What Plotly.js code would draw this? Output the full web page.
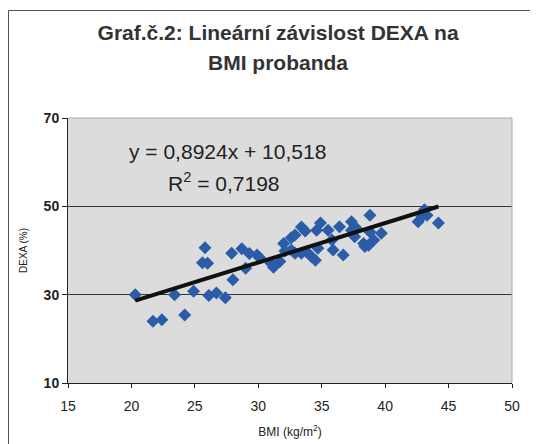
<!DOCTYPE html>
<html>
<head>
<meta charset="utf-8">
<script src="https://cdn.plot.ly/plotly-3.0.1.min.js"></script>
<style>html,body{margin:0;padding:0;background:#fff;}#chart{width:541px;height:444px;}</style>
</head>
<body>
<div id="chart"></div>
<script>
// BMI (kg/m2)
var bmi = [20.3, 21.7, 22.4, 24.2, 23.4, 24.9, 26.1, 26.7, 27.4, 25.8,
           25.6, 26.0, 27.9, 28.7, 28.0, 29.0, 29.3, 29.9, 30.1, 31.0,
           31.2, 31.7, 32.0, 32.1, 32.6, 32.9, 33.4, 33.7, 32.6, 32.9,
           33.4, 33.8, 34.2, 34.5, 34.6, 34.9, 35.5, 34.7, 35.8, 35.9,
           36.4, 36.7, 37.35, 37.35, 37.75, 37.6, 38.3, 38.4, 38.7, 38.8,
           39.1, 38.8, 39.7, 42.6, 42.9, 43.1, 43.3, 44.2];
// DEXA (%)
var dexa = [30.0, 24.0, 24.3, 25.4, 30.0, 30.8, 29.8, 30.4, 29.3, 40.6,
            37.2, 37.1, 39.4, 40.4, 33.4, 36.0, 39.3, 39.0, 38.4, 37.1,
            36.2, 37.5, 41.6, 39.9, 42.9, 43.5, 45.3, 44.4, 40.1, 39.4,
            39.4, 39.7, 38.6, 37.8, 44.6, 46.2, 44.6, 40.5, 42.4, 40.1,
            45.4, 39.0, 46.5, 44.6, 45.0, 43.1, 41.6, 40.9, 41.2, 44.2,
            42.4, 48.0, 43.9, 46.5, 47.7, 49.2, 48.0, 46.2];
var slope = 0.8924, intercept = 10.518;
var xTicks = [15, 20, 25, 30, 35, 40, 45, 50];
var yTicks = [10, 30, 50, 70];

var xmin = Math.min.apply(null, bmi), xmax = Math.max.apply(null, bmi);
var trendX = [xmin, xmax];
var trendY = trendX.map(function(v){ return slope * v + intercept; });

var font = 'Arial, "Liberation Sans", sans-serif';
var data = [
  {x: bmi, y: dexa, type: 'scatter', mode: 'markers',
   marker: {symbol: 'diamond', size: 10, color: '#2b5ca8'}, hoverinfo: 'skip'},
  {x: trendX, y: trendY, type: 'scatter', mode: 'lines',
   line: {color: '#111', width: 4}, hoverinfo: 'skip'}
];
var layout = {
  width: 541, height: 444,
  margin: {l: 68, r: 29, t: 118, b: 61},
  paper_bgcolor: '#ffffff',
  plot_bgcolor: '#dcdcdc',
  showlegend: false,
  font: {family: font, color: '#222'},
  title: {text: 'Graf.č.2: Lineární závislost DEXA na',
          font: {family: font, size: 21, color: '#333', weight: 'bold'},
          x: 0.514, xanchor: 'center', y: 0.926, yanchor: 'middle'},
  xaxis: {range: [15, 50], tickvals: xTicks, ticktext: xTicks.map(String),
          showgrid: false, zeroline: false,
          showline: true, linecolor: '#222', linewidth: 1, mirror: false,
          ticks: 'outside', ticklen: 4, tickcolor: '#222',
          ticklabelstandoff: 6,
          tickfont: {size: 14, color: '#222'},
          title: {text: 'BMI (kg/m<sup>2</sup>)', font: {size: 12, color: '#222'}, standoff: 14}},
  yaxis: {range: [10, 70], tickvals: yTicks, ticktext: yTicks.map(function(v){return '<b>'+v+'</b>';}),
          showgrid: true, gridcolor: '#333', gridwidth: 1, zeroline: false,
          showline: true, linecolor: '#222', linewidth: 1,
          ticks: 'outside', ticklen: 5, tickcolor: '#222',
          tickfont: {size: 14, color: '#222'},
          title: {text: 'DEXA (%)', font: {size: 10, color: '#222'}, standoff: 14}},
  annotations: [
    {xref: 'paper', yref: 'paper', x: 0.473, y: 1.211, xanchor: 'center', yanchor: 'middle',
     text: '<b>BMI probanda</b>', showarrow: false, font: {size: 21, color: '#333'}},
    {xref: 'paper', yref: 'paper', x: 0.36, y: 0.872, xanchor: 'center', yanchor: 'middle',
     text: 'y = 0,8924x + 10,518', showarrow: false, font: {size: 21, color: '#222'}},
    {xref: 'paper', yref: 'paper', x: 0.351, y: 0.758, xanchor: 'center', yanchor: 'middle',
     text: 'R<sup>2</sup> = 0,7198', showarrow: false, font: {size: 21, color: '#222'}}
  ],
  shapes: [
    {type: 'line', xref: 'paper', yref: 'paper', x0: 0, x1: 1, y0: 1, y1: 1,
     line: {color: '#aaa', width: 1}},
    {type: 'line', xref: 'paper', yref: 'paper', x0: 1, x1: 1, y0: 0, y1: 1,
     line: {color: '#aaa', width: 1}}
  ]
};
Plotly.newPlot('chart', data, layout, {staticPlot: true, displayModeBar: false}).then(function(){
  var svg = document.querySelector('#chart .main-svg');
  var ns = 'http://www.w3.org/2000/svg';
  var g = document.createElementNS(ns, 'g');
  var p = document.createElementNS(ns, 'path');
  p.setAttribute('d', 'M8.5,444 L8.5,10.5 L530,10.5');
  p.setAttribute('fill', 'none');
  p.setAttribute('stroke', '#555');
  p.setAttribute('stroke-width', '1');
  g.appendChild(p);
  svg.appendChild(g);
});
</script>
</body>
</html>
